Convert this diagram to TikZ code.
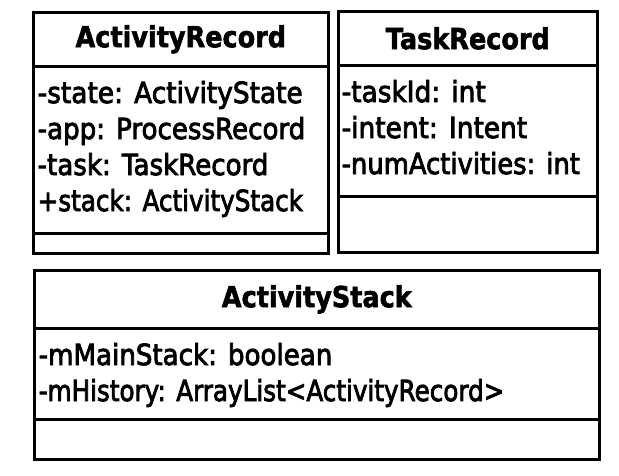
\documentclass[tikz,border=0pt]{standalone}
\usepackage{fontspec}
\setmainfont{DejaVu Sans}
\newfontface\fieldface{DejaVu Sans}[FakeBold=3]
\newfontface\titleface{DejaVu Sans Bold}[FakeBold=2]
% horizontally condensed text, to keep the class boxes compact
\newcommand\narrow[1]{\scalebox{0.88}[1]{#1}}
\newcommand\fieldtext[2][0.91]{\scalebox{#1}[1]{#2}}
\tikzset{
  compart/.style={draw, line width=2.6pt, rectangle, inner sep=0pt, anchor=north west},
  classtitle/.style={font=\fontsize{29}{34}\titleface, inner sep=0pt},
  field/.style={font=\fontsize{29}{34}\fieldface, inner sep=0pt, anchor=base west},
}
\begin{document}
\begin{tikzpicture}[x=1pt, y=-1pt]
  \useasboundingbox (0,0) rectangle (619,475);

  % ActivityRecord
  \node[compart, minimum width=295pt, minimum height=54pt]  (arHead) at (32,11) {};
  \node[compart, minimum width=295pt, minimum height=167pt] (arAttr) at (32,65) {};
  \node[compart, minimum width=295pt, minimum height=20pt]  (arOps)  at (32,232) {};
  \node[classtitle] (arTitle) at (arHead) {\narrow{ActivityRecord}};
  \node[field] (arF1) at (37.5,103) {\fieldtext{-state: ActivityState}};
  \node[field] (arF2) at (37.5,139) {\fieldtext[0.9]{-app: ProcessRecord}};
  \node[field] (arF3) at (37.5,175) {\fieldtext[0.9]{-task: TaskRecord}};
  \node[field] (arF4) at (37.5,211) {\fieldtext[0.85]{+stack: ActivityStack}};

  % TaskRecord
  \node[compart, minimum width=259pt, minimum height=54pt]  (trHead) at (337,10) {};
  \node[compart, minimum width=259pt, minimum height=131pt] (trAttr) at (337,64) {};
  \node[compart, minimum width=259pt, minimum height=56pt]  (trOps)  at (337,195) {};
  \node[classtitle] (trTitle) at (trHead) {\narrow{TaskRecord}};
  \node[field] (trF1) at (341.5,102) {\fieldtext{-taskId: int}};
  \node[field] (trF2) at (341.5,138) {\fieldtext{-intent: Intent}};
  \node[field] (trF3) at (341.5,174) {\fieldtext[0.89]{-numActivities: int}};

  % ActivityStack
  \node[compart, minimum width=565pt, minimum height=58pt] (asHead) at (33,269) {};
  \node[compart, minimum width=565pt, minimum height=91pt] (asAttr) at (33,327) {};
  \node[compart, minimum width=565pt, minimum height=40pt] (asOps)  at (33,418) {};
  \node[classtitle] (asTitle) at (asHead) {\narrow{ActivityStack}};
  \node[field] (asF1) at (38.5,365) {\fieldtext[0.9]{-mMainStack: boolean}};
  \node[field] (asF2) at (38.5,401) {\fieldtext[0.85]{-mHistory: ArrayList<ActivityRecord>}};
\end{tikzpicture}
\end{document}
